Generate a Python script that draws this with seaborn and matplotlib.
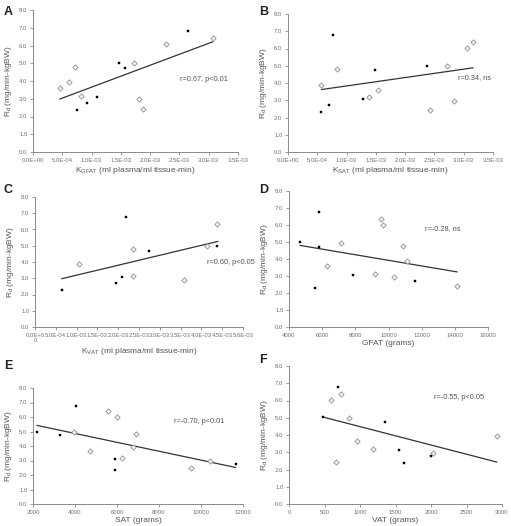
import matplotlib
matplotlib.use("Agg")
import matplotlib.pyplot as plt
import seaborn as sns
import pandas as pd

sns.set_theme(style="white")
plt.rcParams['font.family'] = ['Liberation Sans', 'DejaVu Sans']

# ---------------- data ----------------
# Panel A: K_GFAT
a_fill_x = [7.57e-4, 9.16e-4, 1.10e-3, 1.46e-3, 1.57e-3, 2.64e-3]
a_fill_y = [2.35, 2.75, 3.11, 5.03, 4.73, 6.80]
a_open_x = [4.55e-4, 6.09e-4, 7.17e-4, 8.14e-4, 1.72e-3, 1.81e-3, 1.87e-3, 2.27e-3, 3.07e-3]
a_open_y = [3.63, 3.94, 4.80, 3.16, 5.01, 2.98, 2.43, 6.06, 6.40]
a_fit_x = [4.55e-4, 3.07e-3]
a_fit_y = [2.98, 6.21]

# Panel B: K_SAT
b_fill_x = [5.69e-4, 7.0e-4, 7.74e-4, 1.28e-3, 1.49e-3, 2.38e-3]
b_fill_y = [2.33, 2.75, 6.80, 3.08, 4.73, 4.98]
b_open_x = [5.69e-4, 8.3e-4, 1.39e-3, 1.53e-3, 2.43e-3, 2.72e-3, 2.83e-3, 3.05e-3, 3.15e-3]
b_open_y = [3.91, 4.81, 3.16, 3.62, 2.44, 4.98, 2.97, 6.01, 6.38]
b_fit_x = [5.69e-4, 3.16e-3]
b_fit_y = [3.62, 4.88]

# Panel C: K_VAT
c_fill_x = [6.4e-4, 1.94e-3, 2.08e-3, 2.19e-3, 2.74e-3, 4.37e-3]
c_fill_y = [2.30, 2.71, 3.06, 6.75, 4.70, 4.96]
c_open_x = [1.06e-3, 2.35e-3, 2.35e-3, 3.58e-3, 4.14e-3, 4.38e-3]
c_open_y = [3.88, 4.78, 3.12, 2.91, 4.96, 6.36]
c_fit_x = [6.4e-4, 4.40e-3]
c_fit_y = [2.97, 5.27]

# Panel D: GFAT grams
d_fill_x = [4663, 5546, 5827, 5807, 7876, 11590]
d_fill_y = [4.98, 2.29, 6.75, 4.68, 3.06, 2.72]
d_open_x = [6310, 7153, 9161, 9542, 9683, 10345, 10867, 11088, 14140]
d_open_y = [3.58, 4.96, 3.12, 6.33, 5.98, 2.92, 4.77, 3.90, 2.42]
d_fit_x = [4663, 14140]
d_fit_y = [4.80, 3.24]

# Panel E: SAT grams
e_fill_x = [2191, 3274, 4038, 5885, 5917, 11650]
e_fill_y = [4.99, 4.74, 6.77, 3.11, 2.36, 2.77]
e_open_x = [3943, 4707, 5583, 5981, 6236, 6777, 6920, 9500, 10440]
e_open_y = [4.94, 3.64, 6.38, 6.02, 3.18, 3.96, 4.81, 2.45, 2.95]
e_fit_x = [2191, 11650]
e_fit_y = [5.42, 2.52]

# Panel F: VAT grams
f_fill_x = [480, 697, 1351, 1549, 1615, 2001]
f_fill_y = [5.02, 6.80, 4.73, 3.11, 2.37, 2.78]
f_open_x = [588, 730, 847, 669, 956, 1182, 2024, 2928]
f_open_y = [6.04, 6.37, 5.00, 2.45, 3.65, 3.19, 2.97, 3.96]
f_fit_x = [480, 2928]
f_fit_y = [5.04, 2.43]

y_ticks = [0, 1, 2, 3, 4, 5, 6, 7, 8]
y_ticklabels = ["0.0", "1.0", "2.0", "3.0", "4.0", "5.0", "6.0", "7.0", "8.0"]

k_ticks = [0, 5e-4, 1e-3, 1.5e-3, 2e-3, 2.5e-3, 3e-3, 3.5e-3]
k_ticklabels = ["0.0E+00", "5.0E-04", "1.0E-03", "1.5E-03", "2.0E-03", "2.5E-03", "3.0E-03", "3.5E-03"]
kv_ticks = [0, 5e-4, 1e-3, 1.5e-3, 2e-3, 2.5e-3, 3e-3, 3.5e-3, 4e-3, 4.5e-3, 5e-3]
kv_ticklabels = ["0.0E+0\n0", "5.0E-04", "1.0E-03", "1.5E-03", "2.0E-03", "2.5E-03",
                 "3.0E-03", "3.5E-03", "4.0E-03", "4.5E-03", "5.0E-03"]
gfat_ticks = [4000, 6000, 8000, 10000, 12000, 14000, 16000]
sat_ticks = [2000, 4000, 6000, 8000, 10000, 12000]
vat_ticks = [0, 500, 1000, 1500, 2000, 2500, 3000]

panels = [
    dict(letter="A", fx=a_fill_x, fy=a_fill_y, ox=a_open_x, oy=a_open_y, lx=a_fit_x, ly=a_fit_y,
         xt=k_ticks, xtl=k_ticklabels, xlim=(0, 3.5e-3),
         xlabel=r"K$_{\mathregular{GFAT}}$ (ml plasma/ml tissue-min)",
         stat="r=0.67, p<0.01", sx=2.51e-3, sy=4.11,
         box=(33, 10, 238, 152), lpos=(4, 6)),
    dict(letter="B", fx=b_fill_x, fy=b_fill_y, ox=b_open_x, oy=b_open_y, lx=b_fit_x, ly=b_fit_y,
         xt=k_ticks, xtl=k_ticklabels, xlim=(0, 3.5e-3),
         xlabel=r"K$_{\mathregular{SAT}}$ (ml plasma/ml tissue-min)",
         stat="r=0.34, ns", sx=2.90e-3, sy=4.29,
         box=(288, 14, 493, 152), lpos=(259, 6)),
    dict(letter="C", fx=c_fill_x, fy=c_fill_y, ox=c_open_x, oy=c_open_y, lx=c_fit_x, ly=c_fit_y,
         xt=kv_ticks, xtl=kv_ticklabels, xlim=(0, 5e-3),
         xlabel=r"K$_{\mathregular{VAT}}$ (ml plasma/ml tissue-min)",
         stat="r=0.60, p<0.05", sx=4.13e-3, sy=3.94,
         box=(35, 197, 243, 327), lpos=(4, 184)),
    dict(letter="D", fx=d_fill_x, fy=d_fill_y, ox=d_open_x, oy=d_open_y, lx=d_fit_x, ly=d_fit_y,
         xt=gfat_ticks, xtl=[str(t) for t in gfat_ticks], xlim=(4000, 16000),
         xlabel="GFAT (grams)",
         stat="r=-0.28, ns", sx=12200, sy=5.82,
         box=(289, 191, 488, 327), lpos=(259, 184)),
    dict(letter="E", fx=e_fill_x, fy=e_fill_y, ox=e_open_x, oy=e_open_y, lx=e_fit_x, ly=e_fit_y,
         xt=sat_ticks, xtl=[str(t) for t in sat_ticks], xlim=(2000, 12000),
         xlabel="SAT (grams)",
         stat="r=-0.70, p<0.01", sx=8714, sy=5.72,
         box=(33, 388, 243, 504), lpos=(4, 360)),
    dict(letter="F", fx=f_fill_x, fy=f_fill_y, ox=f_open_x, oy=f_open_y, lx=f_fit_x, ly=f_fit_y,
         xt=vat_ticks, xtl=[str(t) for t in vat_ticks], xlim=(0, 3000),
         xlabel="VAT (grams)",
         stat="r=-0.55, p<0.05", sx=2042, sy=6.2,
         box=(289, 366, 502, 504), lpos=(259, 354)),
]

W, H = 511, 526
fig = plt.figure(figsize=(W / 100, H / 100), dpi=100)
axis_gray = "#8a8a8a"
text_gray = "#555555"

for p in panels:
    x0, y0, x1, y1 = p["box"]
    ax = fig.add_axes([x0 / W, 1 - y1 / H, (x1 - x0) / W, (y1 - y0) / H])
    df_open = pd.DataFrame({"x": p["ox"], "y": p["oy"]})
    df_fill = pd.DataFrame({"x": p["fx"], "y": p["fy"]})
    df_fit = pd.DataFrame({"x": p["lx"], "y": p["ly"]})
    sns.lineplot(data=df_fit, x="x", y="y", ax=ax, color="#333333", linewidth=0.9)
    sns.scatterplot(data=df_open, x="x", y="y", ax=ax, marker="D", s=7,
                    facecolor="white", edgecolor="#9a9a9a", linewidth=0.7, zorder=3)
    sns.scatterplot(data=df_fill, x="x", y="y", ax=ax, marker="s", s=4,
                    color="black", edgecolor="black", linewidth=0.3, zorder=4)
    ax.set_xlim(*p["xlim"])
    ax.set_ylim(0, 8)
    ax.set_xticks(p["xt"])
    ax.set_xticklabels(p["xtl"])
    ax.set_yticks(y_ticks)
    ax.set_yticklabels(y_ticklabels)
    ax.tick_params(axis="both", labelsize=4.3, colors=axis_gray, labelcolor="#707070",
                   length=2, width=0.6, direction="out", pad=2,
                   bottom=True, left=True)
    for side in ["top", "right"]:
        ax.spines[side].set_visible(False)
    for side in ["left", "bottom"]:
        ax.spines[side].set_color(axis_gray)
        ax.spines[side].set_linewidth(0.7)
    ax.set_xlabel(p["xlabel"], fontsize=6, color=text_gray, labelpad=2)
    ax.set_ylabel(r"R$_{\mathregular{d}}$ (mg/min-kgBW)", fontsize=6, color=text_gray, labelpad=4)
    ax.text(p["sx"], p["sy"], p["stat"], fontsize=5.3, color=text_gray, ha="left", va="center")
    fig.text(p["lpos"][0] / W, 1 - p["lpos"][1] / H, p["letter"], fontsize=9,
             fontweight="bold", color="#222222", ha="left", va="top")

fig.savefig("out.png", dpi=100, facecolor="white")
